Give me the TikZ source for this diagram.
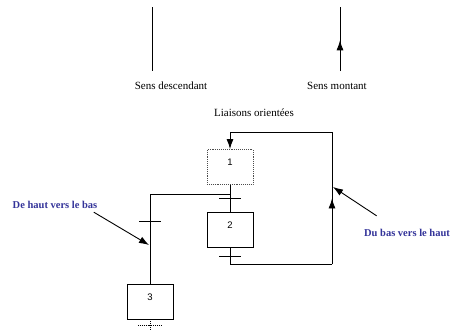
\documentclass[tikz,border=0pt]{standalone}
\usepackage{fontspec}
\setmainfont{Liberation Serif}
\newfontfamily\stepfont{Liberation Sans}
\usetikzlibrary{arrows.meta,calc,decorations.markings,positioning}
\tikzset{>={Latex[length=10pt,width=7pt]}}
\definecolor{bleu}{rgb}{0.2,0.2,0.6}

\begin{document}
\begin{tikzpicture}[x=1pt,y=-1pt,line width=0.9pt,
    etape/.style={draw,minimum width=46pt,minimum height=35pt,inner sep=0pt,
      text height=7pt,text depth=10pt,font=\stepfont\fontsize{9.5}{10}\selectfont},
    legende/.style={inner sep=0pt,font=\fontsize{11}{13}\selectfont},
    remarque/.style={inner sep=0pt,text=bleu,font=\bfseries\fontsize{10.5}{12}\selectfont},
    fleche milieu/.style={postaction={decorate},
      decoration={markings,mark=at position #1 with {\arrow{>}}}}]
      \useasboundingbox (0,0) rectangle (452,332);
      % legende du haut
      \coordinate (descHaut) at (152,7);
      \coordinate (descBas) at (152,71);
      \coordinate (montHaut) at (340,7);
      \coordinate (montBas) at (340,71);
      \draw (descHaut) -- (descBas);
      \draw[fleche milieu=0.48] (montBas) -- (montHaut);
      \node[legende] (sensDesc) at (171,86) {Sens descendant};
      \node[legende] (sensMont) at (337,86) {Sens montant};
      \node[legende] (liaisons) at (254,113) {Liaisons orientées};
      % etapes
      \node[etape,draw=black!70,densely dotted] (e1) at (230,167) {1};
      \node[etape] (e2) at (230,229.5) {2};
      \node[etape] (e3) at (150,301.5) {3};
      %
      \coordinate (t12) at ($(e1.south)!0.5!(e2.north)$);
      \coordinate (t2) at ($(e2.south)+(0,9)$);
      \coordinate (aiguillage) at ($(e1.south)+(0,9)$);
      \coordinate (coinGauche) at (e3.north |- aiguillage);
      \coordinate (t13) at ($(coinGauche)+(0,27)$);
      \coordinate (retourBas) at ($(e2.south)+(0,17)$);
      \coordinate (retourDroit) at ($(retourBas)+(102,0)$);
      \coordinate (retourHaut) at ($(retourDroit)+(0,-132)$);
      \coordinate (entree) at (e1.north |- retourHaut);
      \coordinate (t3) at ($(e3.south)+(0,6)$);
      \draw (e1.south) -- (e2.north);
      \draw (aiguillage) -- (coinGauche) -- (e3.north);
      \draw (e2.south) -- (retourBas) -- (retourDroit);
      \draw[fleche milieu=0.5] (retourDroit) -- (retourHaut);
      \draw[->] (retourHaut) -- (entree) -- (e1.north);
      \draw[densely dotted] (e3.south) -- ++(0,10);
      % receptivites
      \foreach \t in {t12,t2,t13} {%
        \draw ($(\t)+(-11,0)$) -- ($(\t)+(11,0)$);
      }
      \draw[densely dotted] ($(t3)+(-12,0)$) -- ($(t3)+(12,0)$);
      % commentaires
      \node[remarque] (hautBas) at (55,205) {De haut vers le bas};
      \node[remarque] (basHaut) at (407,233) {Du bas vers le haut};
      \coordinate (cibleGauche) at (149,245);
      \coordinate (cibleDroite) at (333,187);
      \draw[->] ($(hautBas.south east)+(-4,3)$) -- (cibleGauche);
      \draw[->] ($(basHaut.north west)+(13,-13)$) -- (cibleDroite);
\end{tikzpicture}
\end{document}
